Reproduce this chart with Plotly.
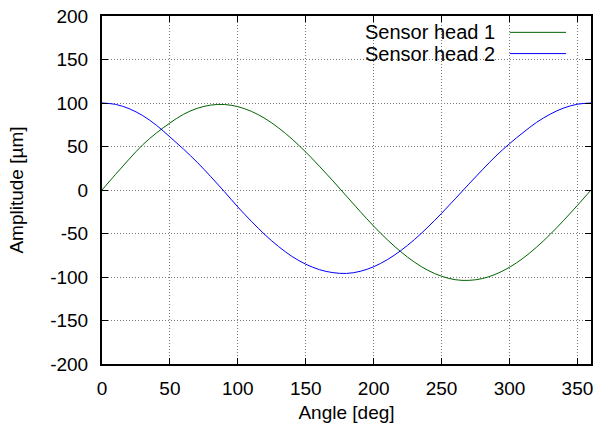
import plotly.graph_objects as go

angle_deg = [0, 10, 20, 30, 40, 50, 60, 70, 80, 90, 100, 110, 120, 130, 140, 150, 160, 170, 180,
             190, 200, 210, 220, 230, 240, 250, 260, 270, 280, 290, 300, 310, 320, 330, 340, 350, 360]

sensor_head_1 = [0, 18, 35.5, 52, 65.5, 77, 87, 93.8, 97.6, 98.3, 95.8, 90.4, 82.2, 71.4, 58.4, 43.6,
                 27.4, 10.5, -7.1, -24.6, -41.5, -57.1, -71.0, -82.9, -92.4, -99.1, -103.1, -103.9,
                 -101.8, -96.7, -88.8, -78.4, -65.6, -50.9, -34.8, -17.7, 0]

sensor_head_2 = [100, 98.4, 93.5, 85.5, 74.5, 61, 47, 32, 15.5, -1.7, -19.5, -36, -51.5, -65, -76.5,
                 -85.3, -91.5, -95, -95.9, -93.5, -88.2, -80.1, -69.6, -57.0, -42.5, -26.8, -10.2,
                 6.7, 23.2, 39.1, 53.2, 66, 77.8, 87.2, 94.3, 98.6, 100]

series_names = ["Sensor head 1", "Sensor head 2"]
series_colors = ["#006400", "#0000ff"]

x_ticks = [0, 50, 100, 150, 200, 250, 300, 350]
y_ticks = [-200, -150, -100, -50, 0, 50, 100, 150, 200]

FONT = "Liberation Sans, Arial, Helvetica, sans-serif"
FS = 19

fig = go.Figure()
for name, ys, col in zip(series_names, [sensor_head_1, sensor_head_2], series_colors):
    fig.add_trace(go.Scatter(x=angle_deg, y=ys, mode="lines", name=name,
                             line=dict(color=col, width=1, shape="spline", smoothing=1.0),
                             showlegend=False, hoverinfo="skip"))

axis_common = dict(
    showline=True, linecolor="black", linewidth=2, mirror="ticks",
    ticks="inside", ticklen=6, tickwidth=1, tickcolor="black",
    showgrid=True, gridcolor="#7a7a7a", gridwidth=1, griddash="1px,2px",
    zeroline=False, tickfont=dict(family=FONT, size=FS, color="black"),
    automargin=False,
)

fig.update_xaxes(range=[0, 360], tickvals=x_ticks, ticktext=[str(v) for v in x_ticks],
                 title=dict(text="Angle [deg]", font=dict(family=FONT, size=FS, color="black"), standoff=8),
                 ticklabelstandoff=6, **axis_common)
fig.update_yaxes(range=[-200, 200], tickvals=y_ticks, ticktext=[str(v) for v in y_ticks],
                 title=dict(text="Amplitude [µm]", font=dict(family=FONT, size=FS, color="black"), standoff=22),
                 ticklabelstandoff=8, **axis_common)

# custom gnuplot-style key (text right-aligned, sample on the right), white box hiding the grid
shapes = [dict(type="rect", xref="paper", yref="paper", x0=0.472, x1=0.971, y0=0.868, y1=1.0,
               fillcolor="white", line=dict(width=0), layer="between")]
annotations = []
rows_y = [0.953, 0.892]
for name, col, yy in zip(series_names, series_colors, rows_y):
    shapes.append(dict(type="line", xref="paper", yref="paper", x0=0.834, x1=0.949, y0=yy, y1=yy,
                       line=dict(color=col, width=1), layer="above"))
    annotations.append(dict(text=name, xref="paper", yref="paper", x=0.806, y=yy, xanchor="right",
                            yanchor="middle", showarrow=False, height=20, borderpad=0,
                            font=dict(family=FONT, size=20, color="black")))

fig.update_layout(
    width=596, height=434,
    margin=dict(l=102, r=5, t=16, b=70),
    plot_bgcolor="white", paper_bgcolor="white",
    shapes=shapes, annotations=annotations,
    font=dict(family=FONT, size=FS, color="black"),
    hovermode=False,
)

fig.write_html("out.html", config={"displayModeBar": False},
               post_script="document.body.style.margin='0px';document.body.style.overflow='hidden';")
